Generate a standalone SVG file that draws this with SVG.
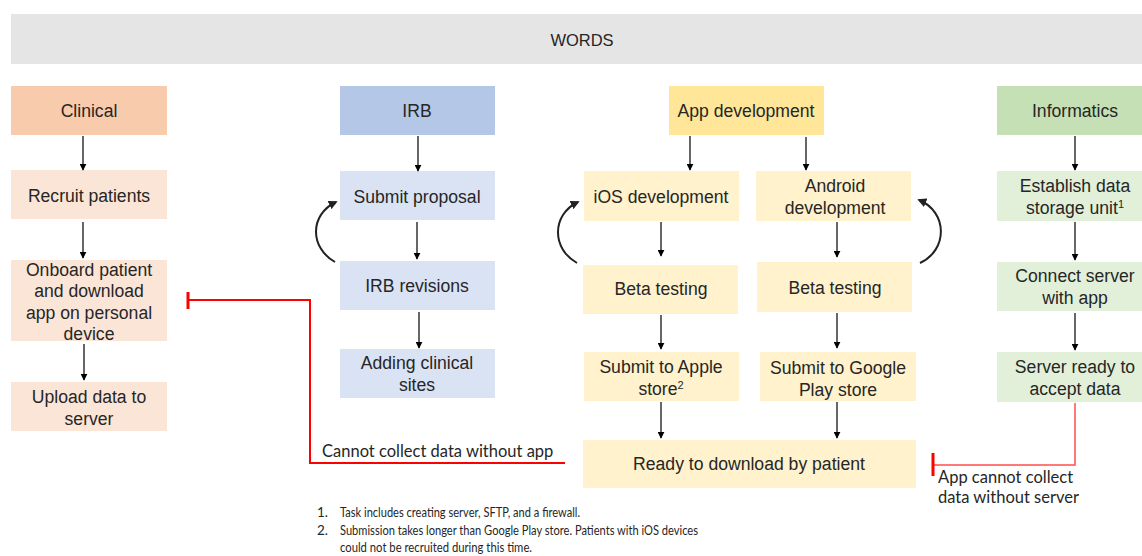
<svg xmlns="http://www.w3.org/2000/svg" width="1142" height="556" viewBox="0 0 1142 556">
<defs>
<marker id="ah" viewBox="0 0 10 10" refX="9" refY="5" markerWidth="7" markerHeight="7" orient="auto" markerUnits="userSpaceOnUse"><path d="M0,0 L10,5 L0,10 z" fill="#000"/></marker>
<marker id="ahc" viewBox="0 0 10 10" refX="8" refY="5" markerWidth="9" markerHeight="9" orient="auto" markerUnits="userSpaceOnUse"><path d="M0,0 L10,5 L0,10 z" fill="#222"/></marker>
<style>
.t{font-family:"Liberation Sans",Arial,sans-serif;font-size:17.6px;fill:#262626;text-anchor:middle}
.c{font-family:Lato,"Liberation Sans",sans-serif;fill:#262626}
.ar{stroke:#000;stroke-width:1.2;fill:none;marker-end:url(#ah)}
.cu{stroke:#222;stroke-width:2;fill:none;marker-end:url(#ahc)}
.hc{fill:#f8cbad}.bc{fill:#fbe5d6}
.hi{fill:#b4c7e7}.bi{fill:#dae3f3}
.ha{fill:#ffe699}.ba{fill:#fff2cc}
.hf{fill:#c5e0b4}.bf{fill:#e2f0d9}
</style>
</defs>
<rect width="1142" height="556" fill="#fff"/>
<g id="banner"><rect x="11" y="14" width="1131" height="50" fill="#e5e5e5"/><text class="t" x="582" y="46" style="font-size:16.5px">WORDS</text></g>

<g id="clinical"><rect class="hc" x="11" y="86" width="156" height="49"/><text class="t" x="89" y="117">Clinical</text></g>
<g id="recruit"><rect class="bc" x="11" y="170" width="156" height="49"/><text class="t" x="89" y="202">Recruit patients</text></g>
<g id="onboard"><rect class="bc" x="11" y="260" width="156" height="81"/><text class="t" x="89" y="276">Onboard patient<tspan x="89" dy="21.3">and download</tspan><tspan x="89" dy="21.3">app on personal</tspan><tspan x="89" dy="21.3">device</tspan></text></g>
<g id="upload"><rect class="bc" x="11" y="382" width="156" height="49"/><text class="t" x="89" y="403">Upload data to<tspan x="89" dy="21.5">server</tspan></text></g>

<g id="irb"><rect class="hi" x="340" y="86" width="155" height="49"/><text class="t" x="417" y="117">IRB</text></g>
<g id="submit-proposal"><rect class="bi" x="340" y="171" width="155" height="49"/><text class="t" x="417" y="203">Submit proposal</text></g>
<g id="irb-revisions"><rect class="bi" x="340" y="261" width="155" height="49"/><text class="t" x="417" y="292">IRB revisions</text></g>
<g id="adding-sites"><rect class="bi" x="340" y="349" width="155" height="49"/><text class="t" x="417" y="369">Adding clinical<tspan x="417" dy="21.5">sites</tspan></text></g>

<g id="app-dev"><rect class="ha" x="669" y="86" width="155" height="49"/><text class="t" x="746" y="117">App development</text></g>
<g id="ios-dev"><rect class="ba" x="584" y="171" width="155" height="50"/><text class="t" x="661" y="203">iOS development</text></g>
<g id="android-dev"><rect class="ba" x="756" y="171" width="155" height="50"/><text class="t" x="835" y="192">Android<tspan x="835" dy="21.5">development</tspan></text></g>
<g id="ios-beta"><rect class="ba" x="583" y="265" width="155" height="49"/><text class="t" x="661" y="295">Beta testing</text></g>
<g id="android-beta"><rect class="ba" x="757" y="262" width="155" height="50"/><text class="t" x="835" y="294">Beta testing</text></g>
<g id="apple-store"><rect class="ba" x="584" y="352" width="155" height="49"/><text class="t" x="661" y="373">Submit to Apple<tspan x="661" dy="21.5">store<tspan font-size="11" dy="-6">2</tspan></tspan></text></g>
<g id="google-store"><rect class="ba" x="760" y="352" width="156" height="49"/><text class="t" x="838" y="374">Submit to Google<tspan x="838" dy="21.5">Play store</tspan></text></g>
<g id="ready"><rect class="ba" x="583" y="440" width="333" height="48"/><text class="t" x="749" y="470">Ready to download by patient</text></g>

<g id="informatics"><rect class="hf" x="997" y="86" width="145" height="49"/><text class="t" x="1075" y="117">Informatics</text></g>
<g id="storage"><rect class="bf" x="997" y="171" width="145" height="50"/><text class="t" x="1075" y="192">Establish data<tspan x="1075" dy="21.5">storage unit<tspan font-size="11" dy="-6">1</tspan></tspan></text></g>
<g id="connect"><rect class="bf" x="997" y="262" width="145" height="49"/><text class="t" x="1075" y="282">Connect server<tspan x="1075" dy="21.5">with app</tspan></text></g>
<g id="server-ready"><rect class="bf" x="997" y="352" width="145" height="50"/><text class="t" x="1075" y="373">Server ready to<tspan x="1075" dy="21.5">accept data</tspan></text></g>

<g id="connectors">
<line class="ar" x1="83" y1="136" x2="83" y2="170"/>
<line class="ar" x1="83" y1="222" x2="83" y2="258"/>
<line class="ar" x1="84" y1="344" x2="84" y2="380"/>
<line class="ar" x1="418" y1="136" x2="418" y2="171"/>
<line class="ar" x1="417" y1="222" x2="417" y2="259"/>
<line class="ar" x1="419" y1="312" x2="419" y2="348"/>
<line class="ar" x1="690" y1="136" x2="690" y2="170"/>
<line class="ar" x1="806" y1="137" x2="806" y2="170"/>
<line class="ar" x1="661" y1="222" x2="661" y2="256"/>
<line class="ar" x1="837" y1="222" x2="837" y2="257"/>
<line class="ar" x1="661" y1="315" x2="661" y2="349"/>
<line class="ar" x1="837" y1="313" x2="837" y2="348"/>
<line class="ar" x1="661" y1="402" x2="661" y2="438"/>
<line class="ar" x1="837" y1="402" x2="837" y2="438"/>
<line class="ar" x1="1075" y1="136" x2="1075" y2="170"/>
<line class="ar" x1="1075" y1="222" x2="1075" y2="260"/>
<line class="ar" x1="1075" y1="313" x2="1075" y2="350"/>
<path class="cu" d="M335,262 C310,248 309,215 336,202"/>
<path class="cu" d="M577,263 C552,249 551,215 578,202"/>
<path class="cu" d="M920,263 C948,250 948,212 919,200"/>
<path d="M565,463 H310 V300 H188" stroke="#ff0000" stroke-width="2" fill="none"/>
<line x1="188" y1="292" x2="188" y2="309" stroke="#ff0000" stroke-width="3"/>
<path d="M1075,403 V465 H933" stroke="#ff4d4d" stroke-width="1.5" fill="none"/>
<line x1="933" y1="453" x2="933" y2="476" stroke="#ff0000" stroke-width="3"/>
<text class="c" x="322" y="457" font-size="16.5">Cannot collect data without app</text>
<text class="c" x="938" y="483" font-size="16.5">App cannot collect<tspan x="938" dy="20">data without server</tspan></text>
</g>

<g id="footnotes" class="c" font-size="13.5">
<text x="317" y="517">1.</text><text x="340" y="517" textLength="240" lengthAdjust="spacingAndGlyphs">Task includes creating server, SFTP, and a firewall.</text>
<text x="317" y="535">2.</text><text x="340" y="535" textLength="358" lengthAdjust="spacingAndGlyphs">Submission takes longer than Google Play store. Patients with iOS devices</text>
<text x="340" y="552" textLength="192" lengthAdjust="spacingAndGlyphs">could not be recruited during this time.</text>
</g>
</svg>
